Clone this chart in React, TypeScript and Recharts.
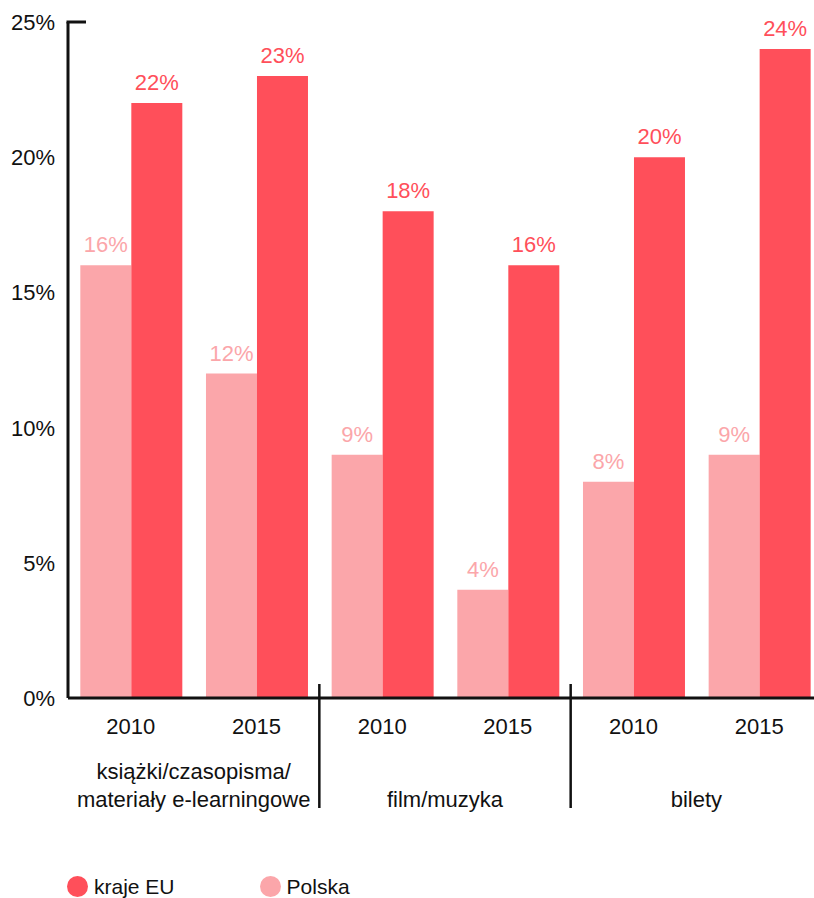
import React from "react";
import { BarChart, Bar, XAxis, YAxis, LabelList } from "recharts";

// ---------------------------------------------------------------------------
// Data
// ---------------------------------------------------------------------------

const years = ["2010", "2015", "2010", "2015", "2010", "2015"];
const groupOf = ["ksiazki", "ksiazki", "film", "film", "bilety", "bilety"];
const groupLabels = [
  ["książki/czasopisma/", "materiały e-learningowe"],
  ["film/muzyka"],
  ["bilety"],
];
const polska = [16, 12, 9, 4, 8, 9];
const krajeEU = [22, 23, 18, 16, 20, 24];
const yTicks = [0, 5, 10, 15, 20, 25];

const rows = years.map((year, i) => ({
  year,
  group: groupOf[i],
  polska: polska[i],
  eu: krajeEU[i],
}));

// ---------------------------------------------------------------------------
// Look
// ---------------------------------------------------------------------------

const EU_COLOR = "#FF4F5A";
const PL_COLOR = "#FBA6AA";
const FONT = "'Liberation Sans', Arial, sans-serif";
const FS = 22;
const CHART_W = 822;
const CHART_H = 898;
const Y_AXIS_W = 68;
const GROUP_W = (CHART_W - Y_AXIS_W) / groupLabels.length;

function YTick({ x, y, payload }: any) {
  return (
    <g>
      <text x={x} y={y + 8} textAnchor="end" fill="#111" fontSize={FS} fontFamily={FONT}>
        {payload.value}%
      </text>
      {payload.value === 25 && (
        <line x1={x + 11.5} x2={x + 31} y1={y} y2={y} stroke="#111" strokeWidth={3} />
      )}
    </g>
  );
}

function YearTick({ x, y, payload }: any) {
  return (
    <text x={x} y={y + 34} textAnchor="middle" fill="#111" fontSize={FS} fontFamily={FONT}>
      {payload.value}
    </text>
  );
}

function GroupTick({ x, y, index }: any) {
  const lines = groupLabels[index] ?? [];
  const last = index === groupLabels.length - 1;
  return (
    <g>
      {lines.map((l, i) => (
        <text
          key={i}
          x={x}
          y={y + 67 - (lines.length - 1 - i) * 28}
          textAnchor="middle"
          fill="#111"
          fontSize={FS}
          fontFamily={FONT}
        >
          {l}
        </text>
      ))}
      {!last && (
        <line
          x1={x + GROUP_W / 2}
          x2={x + GROUP_W / 2}
          y1={y - 56}
          y2={y + 68}
          stroke="#111"
          strokeWidth={2.5}
        />
      )}
    </g>
  );
}

function LegendItem({ color, label }: { color: string; label: string }) {
  return (
    <div style={{ display: "flex", alignItems: "center", gap: 6, lineHeight: 1 }}>
      <span
        style={{ width: 21, height: 21, borderRadius: "50%", background: color, display: "inline-block" }}
      />
      <span style={{ fontSize: 21, color: "#111" }}>{label}</span>
    </div>
  );
}

export default function App() {
  return (
    <div
      style={{
        position: "absolute",
        left: 0,
        top: 0,
        width: 814,
        height: 898,
        overflow: "hidden",
        background: "#fff",
        fontFamily: FONT,
      }}
    >
      <BarChart
        width={CHART_W}
        height={CHART_H}
        data={rows}
        margin={{ top: 22, right: 0, bottom: 60, left: 0 }}
        barCategoryGap="9.8%"
        barGap={0}
      >
        <YAxis
          domain={[0, 25]}
          ticks={yTicks}
          width={Y_AXIS_W}
          tickSize={0}
          tickMargin={13}
          tickLine={false}
          axisLine={{ stroke: "#111", strokeWidth: 3 }}
          tick={<YTick />}
        />
        <XAxis
          dataKey="year"
          height={40}
          tickSize={0}
          tickLine={false}
          axisLine={{ stroke: "#111", strokeWidth: 3 }}
          tick={<YearTick />}
        />
        <XAxis
          xAxisId="groups"
          dataKey="group"
          allowDuplicatedCategory={false}
          height={100}
          tickSize={0}
          tickLine={false}
          axisLine={false}
          tick={<GroupTick />}
        />
        <Bar dataKey="polska" fill={PL_COLOR} isAnimationActive={false}>
          <LabelList
            dataKey="polska"
            position="top"
            offset={13}
            formatter={(v: any) => `${v}%`}
            fill={PL_COLOR}
            fontSize={FS}
            fontFamily={FONT}
          />
        </Bar>
        <Bar dataKey="eu" fill={EU_COLOR} isAnimationActive={false}>
          <LabelList
            dataKey="eu"
            position="top"
            offset={13}
            formatter={(v: any) => `${v}%`}
            fill={EU_COLOR}
            fontSize={FS}
            fontFamily={FONT}
          />
        </Bar>
      </BarChart>
      <div
        style={{
          position: "absolute",
          left: 67,
          top: 876,
          display: "flex",
          gap: 85,
        }}
      >
        <LegendItem color={EU_COLOR} label="kraje EU" />
        <LegendItem color={PL_COLOR} label="Polska" />
      </div>
    </div>
  );
}
